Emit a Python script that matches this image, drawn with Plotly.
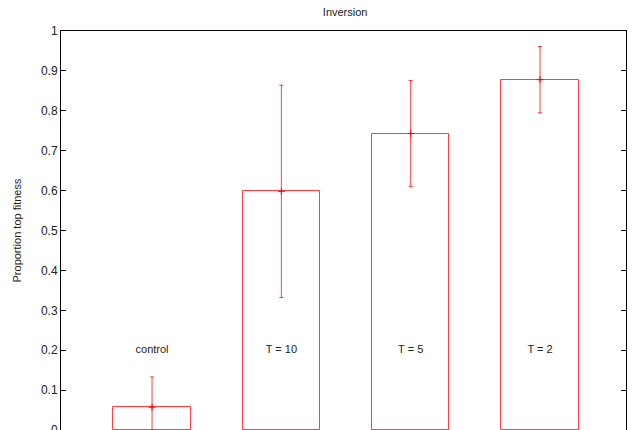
import plotly.graph_objects as go

categories = ["control", "T = 10", "T = 5", "T = 2"]
positions = [1, 2, 3, 4]
values = [0.057, 0.598, 0.743, 0.878]
errors = [0.076, 0.266, 0.133, 0.083]
label_y = [0.2, 0.2, 0.2, 0.2]
y_ticks = [0, 0.1, 0.2, 0.3, 0.4, 0.5, 0.6, 0.7, 0.8, 0.9, 1]
y_tick_text = ["0", "0.1", "0.2", "0.3", "0.4", "0.5", "0.6", "0.7", "0.8", "0.9", "1"]

red = "rgba(255,0,0,0.75)"
FONT = "Liberation Sans, Arial, sans-serif"

fig = go.Figure()
fig.add_trace(go.Bar(
    x=positions, y=values, width=0.6,
    marker=dict(color="rgba(255,255,255,0)", line=dict(color=red, width=1)),
    error_y=dict(type="data", array=errors, visible=True, color=red, thickness=1, width=2),
    showlegend=False, hoverinfo="skip",
))
fig.add_trace(go.Scatter(
    x=positions, y=values, mode="markers",
    marker=dict(symbol="cross-thin", size=5, line=dict(color="red", width=1)),
    showlegend=False, hoverinfo="skip",
))
fig.add_trace(go.Scatter(
    x=positions, y=label_y, mode="text", text=categories,
    textfont=dict(family=FONT, size=11, color="#222"),
    textposition="middle center", showlegend=False, hoverinfo="skip",
))

fig.update_layout(
    width=638, height=430,
    margin=dict(l=61, r=12, t=31, b=0, autoexpand=False),
    paper_bgcolor="white", plot_bgcolor="white",
    font=dict(family=FONT, size=12, color="#222"),
    title=dict(text="Inversion", x=0.541, xanchor="center", y=0.972, yanchor="middle",
               font=dict(size=11)),
    bargap=0,
    annotations=[dict(text="Proportion top fitness", xref="paper", yref="paper",
                      x=-0.0779, y=0.5, textangle=-90, showarrow=False,
                      xanchor="center", yanchor="middle", font=dict(size=11))],
)
fig.update_xaxes(range=[0.296, 4.665], showgrid=False, zeroline=False,
                 showline=True, linecolor="black", linewidth=1, mirror=True,
                 showticklabels=False, ticks="", automargin=False)
fig.update_yaxes(range=[0, 1], tickvals=y_ticks, ticktext=y_tick_text,
                 showgrid=False, zeroline=False, automargin=False,
                 ticklabeloverflow="allow",
                 showline=True, linecolor="black", linewidth=1, mirror="allticks",
                 ticks="inside", ticklen=5, tickcolor="black")

fig.write_html("out.html", config={"displayModeBar": False},
               post_script="document.body.style.margin='0px';document.body.style.overflow='hidden';")
